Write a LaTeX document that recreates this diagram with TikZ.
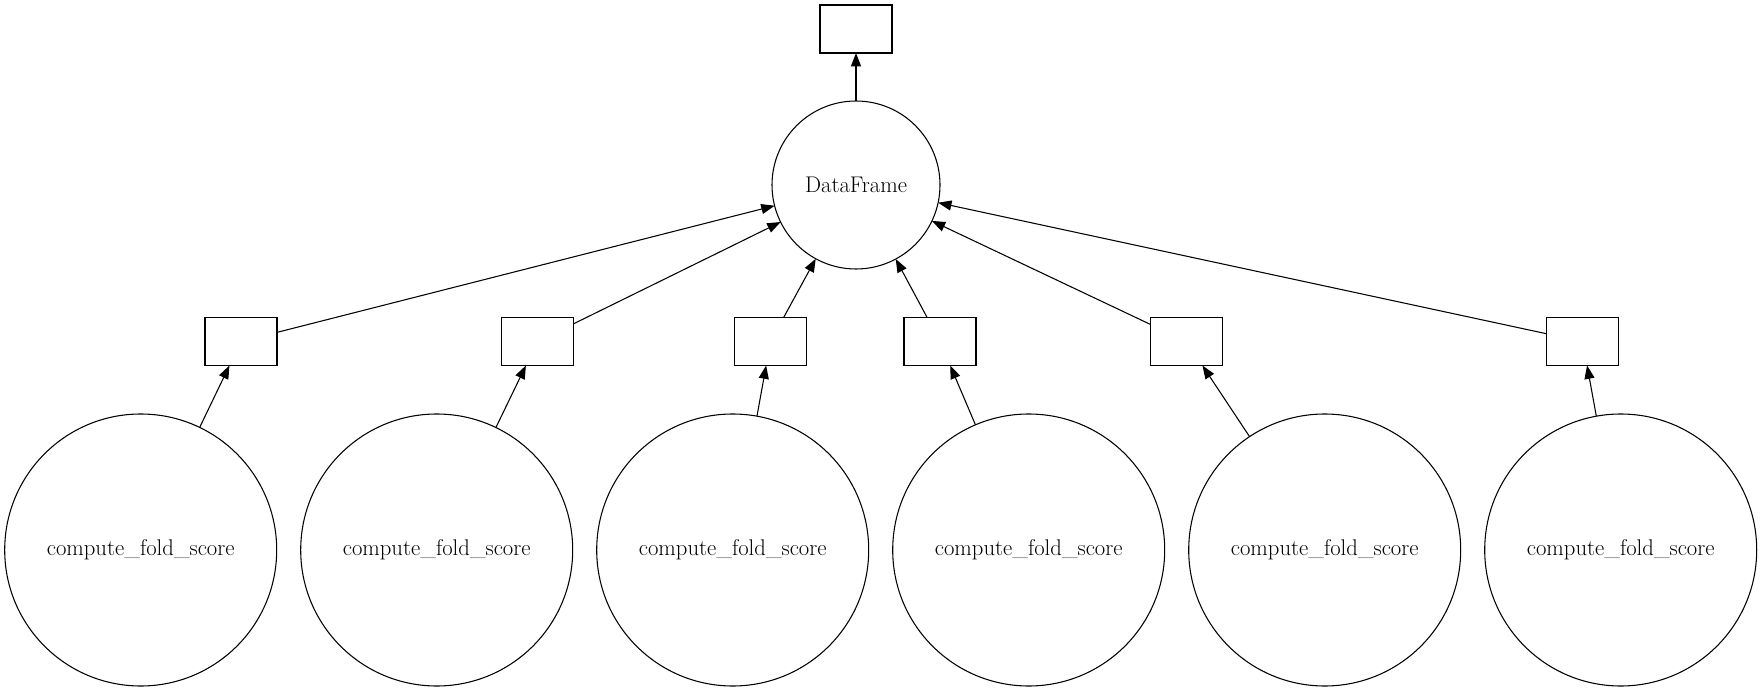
\documentclass[tikz,border=0pt]{standalone}
\usepackage{fontspec}
\usetikzlibrary{arrows.meta}
\begin{document}
\begin{tikzpicture}[x=0.75pt,y=-0.75pt,
  every node/.style={inner sep=0pt,outer sep=0pt,font=\fontsize{17}{20}\selectfont},
  task/.style={draw,circle,line width=0.8pt,minimum size=204pt},
  frame/.style={draw,circle,line width=0.8pt,minimum size=126pt},
  datakey/.style={draw,rectangle,line width=0.8pt,minimum width=54pt,minimum height=36pt},
  link/.style={line width=0.8pt,-{Triangle[length=10pt,width=7.5pt]}}]
\useasboundingbox (0,0) rectangle (1763,691);

% result and aggregated frame
\node[datakey] (out) at (856,29) {};
\node[frame] (df) at (856,185) {DataFrame};

% intermediate keys
\node[datakey] (k1) at (241,341.5) {};
\node[datakey] (k2) at (537.5,341.5) {};
\node[datakey] (k3) at (770.5,341.5) {};
\node[datakey] (k4) at (940,341.5) {};
\node[datakey] (k5) at (1186.5,341.5) {};
\node[datakey] (k6) at (1582.7,341.5) {};

% scoring tasks
\node[task] (t1) at (140.7,550) {compute\_fold\_score};
\node[task] (t2) at (436.7,550) {compute\_fold\_score};
\node[task] (t3) at (732.7,550) {compute\_fold\_score};
\node[task] (t4) at (1028.7,550) {compute\_fold\_score};
\node[task] (t5) at (1324.7,550) {compute\_fold\_score};
\node[task] (t6) at (1620.7,550) {compute\_fold\_score};

\draw[link] (df) -- (out);
\foreach \i in {1,...,6} {
  \draw[link] (t\i) -- (k\i);
  \draw[link] (k\i) -- (df);
}
\end{tikzpicture}
\end{document}
